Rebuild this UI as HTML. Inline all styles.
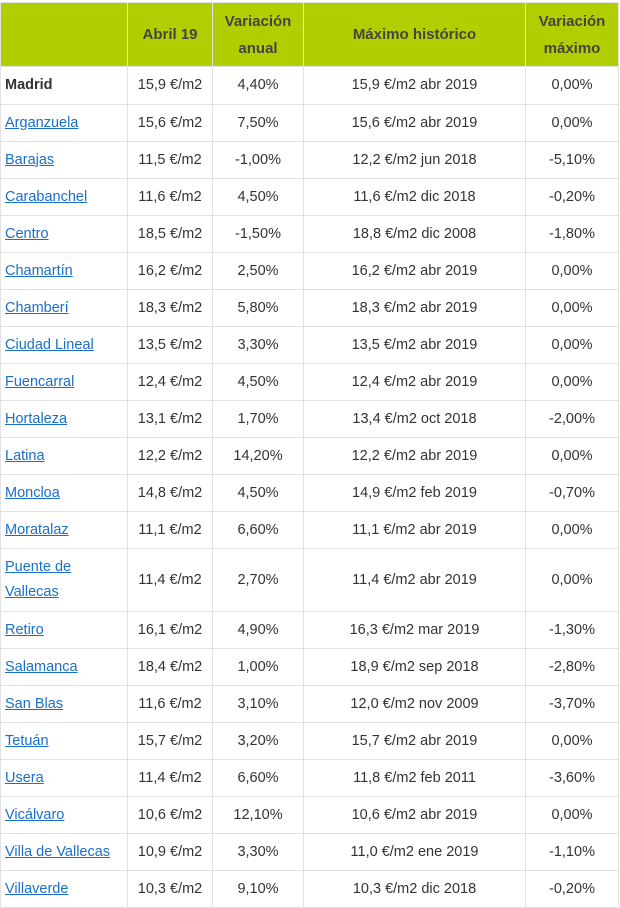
<!DOCTYPE html>
<html><head><meta charset="utf-8"><style>
body{margin:0;background:#fff;}
table{position:absolute;left:0;top:2px;border-collapse:collapse;table-layout:fixed;width:619px;font-family:"Liberation Sans",sans-serif;font-size:14.5px;color:#333;}
td,th{border:1px solid #e2e2e2;text-align:center;padding:0 4px;line-height:25px;}
th{background:#b1cf00;color:#444;font-weight:bold;height:63px;font-size:15px;line-height:27px;}
td{height:36px;}
tr.first td{height:37px;}
td:first-child{text-align:left;padding-left:4px;}
a{color:#1a6fc9;text-decoration:underline;}
tr.tall td{height:62px;}
</style></head><body>
<table>
<colgroup><col style="width:127px"><col style="width:85px"><col style="width:91px"><col style="width:222px"><col style="width:93px"></colgroup>
<tr><th></th><th>Abril 19</th><th>Variación anual</th><th>Máximo histórico</th><th>Variación máximo</th></tr>
<tr class="first"><td><b>Madrid</b></td><td>15,9 €/m2</td><td>4,40%</td><td>15,9 €/m2 abr 2019</td><td>0,00%</td></tr>
<tr><td><a>Arganzuela</a></td><td>15,6 €/m2</td><td>7,50%</td><td>15,6 €/m2 abr 2019</td><td>0,00%</td></tr>
<tr><td><a>Barajas</a></td><td>11,5 €/m2</td><td>-1,00%</td><td>12,2 €/m2 jun 2018</td><td>-5,10%</td></tr>
<tr><td><a>Carabanchel</a></td><td>11,6 €/m2</td><td>4,50%</td><td>11,6 €/m2 dic 2018</td><td>-0,20%</td></tr>
<tr><td><a>Centro</a></td><td>18,5 €/m2</td><td>-1,50%</td><td>18,8 €/m2 dic 2008</td><td>-1,80%</td></tr>
<tr><td><a>Chamartín</a></td><td>16,2 €/m2</td><td>2,50%</td><td>16,2 €/m2 abr 2019</td><td>0,00%</td></tr>
<tr><td><a>Chamberí</a></td><td>18,3 €/m2</td><td>5,80%</td><td>18,3 €/m2 abr 2019</td><td>0,00%</td></tr>
<tr><td><a>Ciudad Lineal</a></td><td>13,5 €/m2</td><td>3,30%</td><td>13,5 €/m2 abr 2019</td><td>0,00%</td></tr>
<tr><td><a>Fuencarral</a></td><td>12,4 €/m2</td><td>4,50%</td><td>12,4 €/m2 abr 2019</td><td>0,00%</td></tr>
<tr><td><a>Hortaleza</a></td><td>13,1 €/m2</td><td>1,70%</td><td>13,4 €/m2 oct 2018</td><td>-2,00%</td></tr>
<tr><td><a>Latina</a></td><td>12,2 €/m2</td><td>14,20%</td><td>12,2 €/m2 abr 2019</td><td>0,00%</td></tr>
<tr><td><a>Moncloa</a></td><td>14,8 €/m2</td><td>4,50%</td><td>14,9 €/m2 feb 2019</td><td>-0,70%</td></tr>
<tr><td><a>Moratalaz</a></td><td>11,1 €/m2</td><td>6,60%</td><td>11,1 €/m2 abr 2019</td><td>0,00%</td></tr>
<tr class="tall"><td><a>Puente de Vallecas</a></td><td>11,4 €/m2</td><td>2,70%</td><td>11,4 €/m2 abr 2019</td><td>0,00%</td></tr>
<tr><td><a>Retiro</a></td><td>16,1 €/m2</td><td>4,90%</td><td>16,3 €/m2 mar 2019</td><td>-1,30%</td></tr>
<tr><td><a>Salamanca</a></td><td>18,4 €/m2</td><td>1,00%</td><td>18,9 €/m2 sep 2018</td><td>-2,80%</td></tr>
<tr><td><a>San Blas</a></td><td>11,6 €/m2</td><td>3,10%</td><td>12,0 €/m2 nov 2009</td><td>-3,70%</td></tr>
<tr><td><a>Tetuán</a></td><td>15,7 €/m2</td><td>3,20%</td><td>15,7 €/m2 abr 2019</td><td>0,00%</td></tr>
<tr><td><a>Usera</a></td><td>11,4 €/m2</td><td>6,60%</td><td>11,8 €/m2 feb 2011</td><td>-3,60%</td></tr>
<tr><td><a>Vicálvaro</a></td><td>10,6 €/m2</td><td>12,10%</td><td>10,6 €/m2 abr 2019</td><td>0,00%</td></tr>
<tr><td><a>Villa de Vallecas</a></td><td>10,9 €/m2</td><td>3,30%</td><td>11,0 €/m2 ene 2019</td><td>-1,10%</td></tr>
<tr><td><a>Villaverde</a></td><td>10,3 €/m2</td><td>9,10%</td><td>10,3 €/m2 dic 2018</td><td>-0,20%</td></tr>
</table>
</body></html>
